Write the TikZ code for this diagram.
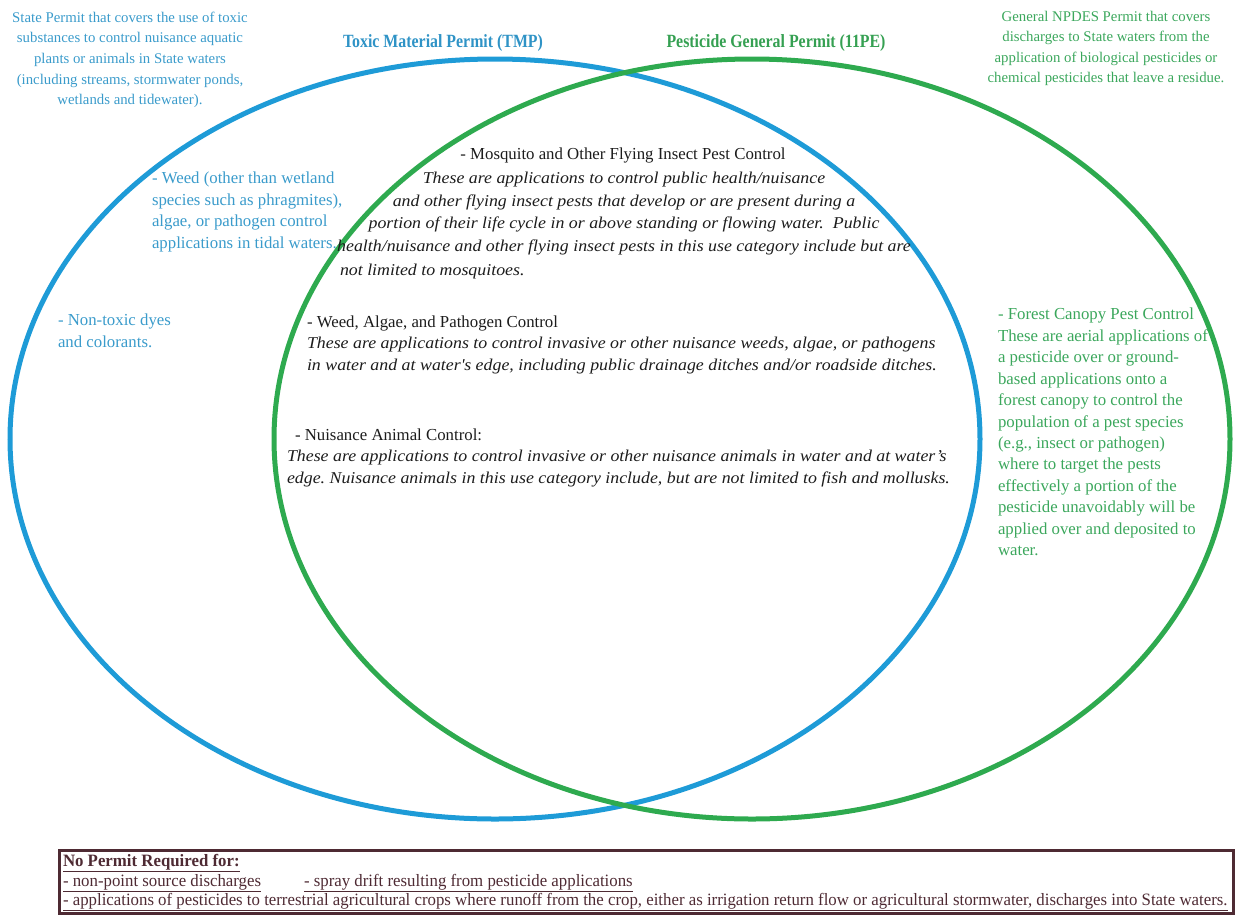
\documentclass[tikz,border=0pt]{standalone}
\usepackage{fontspec}
\setmainfont{Liberation Serif}
\newfontfamily\titlefont{Liberation Serif}[FakeStretch=0.85]
\newfontfamily\descfont{Liberation Serif}[FakeStretch=1.08]
\newfontfamily\notefont{Liberation Serif}[FakeStretch=0.97]
\usetikzlibrary{shapes.geometric}
\frenchspacing

\definecolor{tmpblue}{HTML}{1E9BD7}
\definecolor{pgpgreen}{HTML}{2EAA4F}
\definecolor{tmptext}{HTML}{3A9BCB}
\definecolor{pgptext}{HTML}{3BA75C}
\definecolor{tmptitle}{HTML}{2F93C6}
\definecolor{pgptitle}{HTML}{35A052}
\definecolor{notebrown}{HTML}{4E2A33}
\definecolor{ink}{HTML}{1C1C1C}

% font declarations (sizes in pt; picture unit is 0.75pt)
\newcommand\scopesize{\rmfamily\fontsize{11.1pt}{15.4pt}\selectfont}
\newcommand\bodysize{\rmfamily\fontsize{12.6pt}{16.1pt}\selectfont}
\newcommand\headup{\rmfamily\upshape\fontsize{12.6pt}{16.6pt}\selectfont}
\newcommand\bodyit{\descfont\itshape\fontsize{12.4pt}{16.6pt}\selectfont}
\newcommand\mosqit{\descfont\itshape\fontsize{12.4pt}{17pt}\selectfont}
\newcommand\notesize{\notefont\fontsize{13pt}{15pt}\selectfont}

\tikzset{
  permit ring/.style={ellipse, line width=3.75pt, inner sep=0pt},
  title/.style={font=\titlefont\bfseries\fontsize{14pt}{17pt}\selectfont, anchor=base},
  scope note/.style={font=\scopesize, align=center, anchor=north},
  side note/.style={font=\bodysize, align=left, anchor=north west},
  use case/.style={font=\bodyit, align=left, anchor=north west, text=ink},
  no permit/.style={font=\notesize, text=notebrown, anchor=base west}
}

\begin{document}
\begin{tikzpicture}[x=0.75pt, y=-0.75pt, every node/.style={inner sep=0pt, outer sep=0pt}]
\useasboundingbox (0,0) rectangle (1236,915);

% the two permit ellipses
\node[permit ring, draw=tmpblue, minimum width=727.5pt, minimum height=570pt] (tmp) at (495,439) {};
\node[permit ring, draw=pgpgreen, minimum width=717pt, minimum height=570pt] (pgp) at (752,439) {};

% permit titles
\node[title, text=tmptitle] (tmptitle) at (443,47) {Toxic Material Permit (TMP)};
\node[title, text=pgptitle] (pgptitle) at (776,47) {Pesticide General Permit (11PE)};

% scope of each permit
\node[scope note, text=tmptext] (tmpscope) at (130,12) {State Permit that covers the use of toxic\\substances to control nuisance aquatic\\plants or animals in State waters\\(including streams, stormwater ponds,\\wetlands and tidewater).};
\node[scope note, text=pgptext] (pgpscope) at (1106,11) {General NPDES Permit that covers\\discharges to State waters from the\\application of biological pesticides or\\chemical pesticides that leave a residue.};

% TMP only
\node[side note, text=tmptext] (tidal) at (152,172) {- Weed (other than wetland\\species such as phragmites),\\algae, or pathogen control\\applications in tidal waters.};
\node[side note, text=tmptext] (dyes) at (58,314) {- Non-toxic dyes\\and colorants.};

% 11PE only
\node[side note, text=pgptext] (forest) at (998,308) {- Forest Canopy Pest Control\\These are aerial applications of\\a pesticide over or ground-\\based applications onto a\\forest canopy to control the\\population of a pest species\\(e.g., insect or pathogen)\\where to target the pests\\effectively a portion of the\\pesticide unavoidably will be\\applied over and deposited to\\water.};

% covered by both permits
\node[font=\headup, text=ink, anchor=base] (mosqhead) at (623,159) {- Mosquito and Other Flying Insect Pest Control};
\node[font=\mosqit, text=ink, align=center, anchor=north] (mosqbody) at (624,172) {These are applications to control public health/nuisance\\and other flying insect pests that develop or are present during a\\portion of their life cycle in or above standing or flowing water.\ \ Public\\health/nuisance and other flying insect pests in this use category include but are};
\node[font=\mosqit, text=ink, anchor=base west] (mosqtail) at (340,275) {not limited to mosquitoes.};

\node[font=\headup, text=ink, anchor=base west] (weedhead) at (307,327) {- Weed, Algae, and Pathogen Control};
\node[use case] (weedbody) at (307,337) {These are applications to control invasive or other nuisance weeds, algae, or pathogens\\in water and at water\textquotesingle s edge, including public drainage ditches and/or roadside ditches.};

\node[font=\headup, text=ink, anchor=base west] (animalhead) at (295,440) {- Nuisance Animal Control:};
\node[use case] (animalbody) at (287,450) {These are applications to control invasive or other nuisance animals in water and at water’s\\edge. Nuisance animals in this use category include, but are not limited to fish and mollusks.};

% activities needing no permit
\node[draw=notebrown, line width=2.25pt, anchor=north west, minimum width=880.5pt, minimum height=47.25pt] (nopermit) at (59,850) {};
\node[no permit] (nphead) at (63,866) {\underline{\bfseries No Permit Required for:}};
\node[no permit] (npa) at (63,886) {\underline{- non-point source discharges}};
\node[no permit] (npb) at (304,886) {\underline{- spray drift resulting from pesticide applications}};
\node[no permit] (npc) at (63,905) {\underline{- applications of pesticides to terrestrial agricultural crops where runoff from the crop, either as irrigation return flow or agricultural stormwater, discharges into State waters.}};
\end{tikzpicture}
\end{document}
